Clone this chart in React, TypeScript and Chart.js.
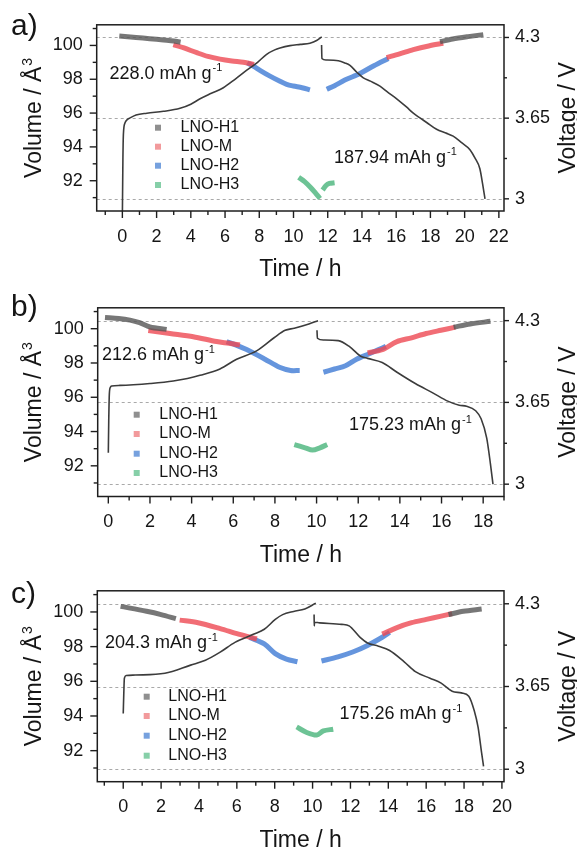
import React, { useEffect, useRef } from 'react';
import { Chart, registerables } from 'chart.js';
Chart.register(...registerables);

type P = [number, number];
const FONT = '"Liberation Sans", Arial, Helvetica, sans-serif';
const W = 577;
const H = 283;

// ---------- shared axis values ----------
const VOL_LABEL_TICKS = [92, 94, 96, 98, 100];
const VOL_MINOR_TICKS = [91, 93, 95, 97, 99, 101];
const VOLT_LABEL_TICKS = [3, 3.65, 4.3];
const VOLT_MINOR_TICKS = [3.325, 3.975];
const VOLT_GUIDES = [3, 3.65, 4.3];
const LEGEND_NAMES = ['LNO-H1', 'LNO-M', 'LNO-H2', 'LNO-H3'];

// ---------- panel a ----------
const A_X_TICKS = [0, 2, 4, 6, 8, 10, 12, 14, 16, 18, 20, 22];
const A_CHARGE: P[] = [[0, 2.86], [0.03, 3.3], [0.06, 3.52], [0.15, 3.61], [0.3, 3.64], [0.45, 3.652], [0.8, 3.675], [1.43, 3.69], [2.4, 3.705], [3.37, 3.729], [4.0, 3.762], [4.54, 3.806], [5.2, 3.85], [5.9, 3.895], [6.6, 3.965], [7.27, 4.036], [7.9, 4.1], [8.43, 4.164], [8.9, 4.2], [9.21, 4.215], [9.8, 4.234], [10.4, 4.244], [10.96, 4.254], [11.35, 4.275], [11.65, 4.305]];
const A_DISCHARGE: P[] = [[11.64, 4.24], [11.66, 4.13], [11.9, 4.118], [12.62, 4.112], [13.0, 4.095], [13.3, 4.075], [13.7, 4.02], [14.08, 3.975], [14.5, 3.948], [15.05, 3.908], [15.5, 3.86], [16.03, 3.806], [16.6, 3.74], [17.0, 3.69], [17.39, 3.652], [17.78, 3.615], [18.36, 3.56], [18.9, 3.53], [19.33, 3.505], [19.8, 3.455], [20.31, 3.396], [20.6, 3.33], [20.89, 3.242], [21.05, 3.12], [21.19, 3.0]];
const A_H1: P[][] = [
  [[-0.18, 100.56], [0.8, 100.47], [1.6, 100.4], [2.4, 100.32], [3.0, 100.26], [3.4, 100.19]],
  [[18.56, 100.22], [19.3, 100.38], [20.2, 100.52], [21.09, 100.64]],
];
const A_M: P[][] = [
  [[2.98, 100.05], [3.6, 99.85], [4.35, 99.57], [5.0, 99.35], [5.71, 99.19], [6.4, 99.08], [7.07, 99.0], [7.7, 98.88]],
  [[15.44, 99.28], [16.2, 99.5], [17.0, 99.75], [17.9, 99.97], [18.75, 100.13]],
];
const A_H2: P[][] = [
  [[7.3, 98.97], [7.7, 98.75], [8.04, 98.53], [8.6, 98.2], [9.21, 97.88], [9.6, 97.7], [9.99, 97.6], [10.5, 97.5], [10.96, 97.37]],
  [[11.94, 97.41], [12.4, 97.62], [13.0, 97.95], [13.88, 98.34], [14.7, 98.8], [15.54, 99.23]],
];
const A_H3: P[][] = [
  [[10.3, 92.2], [10.65, 91.95], [11.0, 91.6], [11.3, 91.25], [11.55, 90.95]],
  [[11.7, 91.45], [11.9, 91.72], [12.1, 91.84], [12.4, 91.88]],
];

// ---------- panel b ----------
const B_X_TICKS = [0, 2, 4, 6, 8, 10, 12, 14, 16, 18];
const B_CHARGE: P[] = [[0, 3.25], [0.02, 3.5], [0.05, 3.72], [0.1, 3.77], [0.16, 3.78], [0.56, 3.785], [1.2, 3.79], [2.0, 3.8], [3.12, 3.82], [3.8, 3.84], [4.4, 3.865], [5.36, 3.916], [6.16, 3.993], [7.12, 4.06], [7.96, 4.164], [8.49, 4.223], [8.93, 4.24], [9.63, 4.274], [10.07, 4.3]];
const B_DISCHARGE: P[] = [[10.02, 4.223], [10.04, 4.16], [10.33, 4.146], [11.04, 4.141], [11.57, 4.095], [12.1, 4.019], [12.45, 4.0], [13.15, 3.967], [13.86, 3.89], [14.74, 3.8], [15.6, 3.724], [16.3, 3.66], [16.85, 3.627], [17.2, 3.62], [17.64, 3.584], [17.9, 3.52], [18.17, 3.366], [18.35, 3.16], [18.47, 3.0]];
const B_H1: P[][] = [
  [[-0.16, 100.66], [0.5, 100.6], [1.04, 100.5], [1.5, 100.35], [2.0, 100.1], [2.8, 99.96]],
  [[16.58, 100.09], [17.38, 100.28], [18.35, 100.43]],
];
const B_M: P[][] = [
  [[1.92, 99.9], [2.96, 99.72], [4.08, 99.53], [5.2, 99.25], [5.8, 99.15], [6.32, 99.05]],
  [[12.45, 98.59], [13.15, 98.78], [13.86, 99.25], [14.56, 99.47], [15.26, 99.72], [15.97, 99.91], [16.67, 100.09]],
];
const B_H2: P[][] = [
  [[5.68, 99.25], [6.11, 99.06], [6.64, 98.78], [7.52, 98.22], [8.22, 97.75], [8.75, 97.56], [9.19, 97.56]],
  [[10.33, 97.46], [10.86, 97.65], [11.39, 97.84], [11.92, 98.22], [12.45, 98.5], [12.98, 98.78], [13.33, 98.97]],
];
const B_H3: P[][] = [
  [[8.93, 93.24], [9.45, 93.05], [9.8, 92.92], [10.16, 93.05], [10.51, 93.24]],
];

// ---------- panel c ----------
const C_X_TICKS = [0, 2, 4, 6, 8, 10, 12, 14, 16, 18, 20];
const C_CHARGE: P[] = [[0, 3.438], [0.03, 3.6], [0.06, 3.715], [0.16, 3.736], [0.64, 3.74], [2.2, 3.754], [3.56, 3.818], [4.34, 3.856], [5.12, 3.92], [5.9, 3.997], [6.87, 4.06], [7.45, 4.1], [8.03, 4.177], [8.42, 4.215], [9.0, 4.24], [9.59, 4.259], [10.17, 4.305]];
const C_DISCHARGE: P[] = [[10.08, 4.215], [10.09, 4.126], [10.1, 4.155], [10.37, 4.15], [11.54, 4.138], [11.93, 4.126], [12.51, 4.036], [12.9, 3.992], [13.48, 3.967], [14.07, 3.933], [14.84, 3.844], [15.43, 3.767], [16.2, 3.715], [16.79, 3.677], [17.37, 3.613], [17.86, 3.6], [18.25, 3.574], [18.54, 3.459], [18.74, 3.33], [18.93, 3.126], [19.03, 3.023]];
const C_H1: P[][] = [
  [[-0.14, 100.32], [1.23, 100.04], [2.0, 99.85], [2.78, 99.61]],
  [[17.18, 99.85], [17.96, 100.04], [18.93, 100.17]],
];
const C_M: P[][] = [
  [[2.98, 99.53], [3.95, 99.38], [5.12, 99.04], [6.09, 98.72], [7.06, 98.44]],
  [[13.68, 98.72], [14.46, 99.1], [15.23, 99.38], [16.01, 99.57], [16.79, 99.76], [17.37, 99.91]],
];
const C_H2: P[][] = [
  [[6.67, 98.53], [7.45, 98.16], [8.03, 97.6], [8.62, 97.28], [9.2, 97.13]],
  [[10.47, 97.17], [11.34, 97.41], [12.12, 97.69], [12.9, 98.07], [13.68, 98.54], [14.07, 98.82]],
];
const C_H3: P[][] = [
  [[9.16, 93.37], [9.69, 93.05], [10.22, 92.9], [10.57, 93.14], [11.09, 93.24]],
];

// ---------- styles ----------
const BAND_COLORS = ['rgba(85,85,85,0.8)', 'rgba(238,72,82,0.8)', 'rgba(62,122,212,0.8)', 'rgba(72,180,122,0.8)'];
const LEGEND_COLORS = ['#8f8f8f', '#f29a9c', '#76a1de', '#86cfa8'];

interface Spec {
  label: string;
  xMin: number; xMax: number; xTicks: number[];
  area: { left: number; right: number; top: number; bottom: number };
  charge: P[]; discharge: P[];
  groups: P[][][];
  capCharge: string; capDischarge: string;
  capChargePos: [number, number]; capDischargePos: [number, number];
  legend: { mx: number; lx: number; rows: number[] };
  labelBase: number;
}

const SPECS: Spec[] = [
  {
    label: 'a)', xMin: -1.5, xMax: 22.3, xTicks: A_X_TICKS,
    area: { left: 96.7, right: 504, top: 15.7, bottom: 211 },
    charge: A_CHARGE, discharge: A_DISCHARGE, groups: [A_H1, A_M, A_H2, A_H3],
    capCharge: '228.0 mAh g', capDischarge: '187.94 mAh g',
    capChargePos: [109.5, 78.5], capDischargePos: [334, 162.5],
    legend: { mx: 158, lx: 180.5, rows: [127.7, 146.7, 165.7, 185] }, labelBase: 35,
  },
  {
    label: 'b)', xMin: -0.51, xMax: 19.0, xTicks: B_X_TICKS,
    area: { left: 97.7, right: 504, top: 19, bottom: 213.5 },
    charge: B_CHARGE, discharge: B_DISCHARGE, groups: [B_H1, B_M, B_H2, B_H3],
    capCharge: '212.6 mAh g', capDischarge: '175.23 mAh g',
    capChargePos: [102, 77.3], capDischargePos: [349, 146.7],
    legend: { mx: 136.7, lx: 159.3, rows: [131.7, 151, 170.7, 190] }, labelBase: 33,
  },
  {
    label: 'c)', xMin: -1.37, xMax: 20.11, xTicks: C_X_TICKS,
    area: { left: 97.3, right: 504, top: 20.7, bottom: 215.7 },
    charge: C_CHARGE, discharge: C_DISCHARGE, groups: [C_H1, C_M, C_H2, C_H3],
    capCharge: '204.3 mAh g', capDischarge: '175.26 mAh g',
    capChargePos: [105, 81.7], capDischargePos: [339.5, 153.3],
    legend: { mx: 146.7, lx: 168.3, rows: [130.7, 150, 169.7, 189.7] }, labelBase: 37,
  },
];

function supText(ctx: CanvasRenderingContext2D, x: number, y: number, main: string, sup: string, size: number, align: 'left' | 'center' = 'left') {
  ctx.font = `${size}px ${FONT}`;
  const w = ctx.measureText(main).width;
  ctx.font = `${Math.round(size * 0.62)}px ${FONT}`;
  const ws = ctx.measureText(sup).width;
  const x0 = align === 'center' ? x - (w + ws + 1) / 2 : x;
  ctx.textAlign = 'left';
  ctx.font = `${size}px ${FONT}`;
  ctx.fillText(main, x0, y);
  ctx.font = `${Math.round(size * 0.62)}px ${FONT}`;
  ctx.fillText(sup, x0 + w + 1, y - size * 0.4);
}

function makePlugin(spec: Spec) {
  return {
    id: 'deco',
    beforeDatasetsDraw(chart: any) {
      const { ctx, chartArea: a, scales } = chart;
      ctx.save();
      ctx.strokeStyle = '#a9a9a9';
      ctx.lineWidth = 1;
      ctx.setLineDash([3, 3]);
      for (const v of VOLT_GUIDES) {
        const py = Math.round(scales.y2.getPixelForValue(v)) + 0.5;
        ctx.beginPath();
        ctx.moveTo(a.left, py);
        ctx.lineTo(a.right, py);
        ctx.stroke();
      }
      ctx.restore();
    },
    afterDraw(chart: any) {
      const { ctx, chartArea: a, scales } = chart;
      ctx.save();
      ctx.strokeStyle = '#1e1e1e';
      ctx.lineWidth = 1.5;
      ctx.strokeRect(a.left, a.top, a.right - a.left, a.bottom - a.top);
      ctx.lineWidth = 1.4;
      // x ticks
      for (let i = Math.ceil(spec.xMin); i <= Math.floor(spec.xMax); i++) {
        const px = scales.x.getPixelForValue(i);
        const len = i % 2 === 0 ? 7 : 4;
        ctx.beginPath();
        ctx.moveTo(px, a.bottom);
        ctx.lineTo(px, a.bottom + len);
        ctx.stroke();
      }
      // left ticks
      for (const v of [...VOL_LABEL_TICKS, ...VOL_MINOR_TICKS]) {
        const py = scales.y.getPixelForValue(v);
        const len = VOL_LABEL_TICKS.includes(v) ? 7 : 4;
        ctx.beginPath();
        ctx.moveTo(a.left, py);
        ctx.lineTo(a.left - len, py);
        ctx.stroke();
      }
      // right ticks
      for (const v of [...VOLT_LABEL_TICKS, ...VOLT_MINOR_TICKS]) {
        const py = scales.y2.getPixelForValue(v);
        const len = VOLT_LABEL_TICKS.includes(v) ? 5 : 3;
        ctx.beginPath();
        ctx.moveTo(a.right, py);
        ctx.lineTo(a.right + len, py);
        ctx.stroke();
      }
      ctx.fillStyle = '#151515';
      ctx.textBaseline = 'alphabetic';
      // panel label
      ctx.font = `30px ${FONT}`;
      ctx.textAlign = 'left';
      ctx.fillText(spec.label, 11, spec.labelBase);
      // x title
      ctx.font = `23px ${FONT}`;
      ctx.textAlign = 'center';
      ctx.fillText('Time / h', (a.left + a.right) / 2, a.bottom + 65);
      const cy = (a.top + a.bottom) / 2;
      // left title
      ctx.save();
      ctx.translate(41, cy);
      ctx.rotate(-Math.PI / 2);
      supText(ctx, 0, 0, 'Volume / Å', '3', 23, 'center');
      ctx.restore();
      // right title
      ctx.save();
      ctx.translate(575, cy);
      ctx.rotate(-Math.PI / 2);
      ctx.font = `23px ${FONT}`;
      ctx.textAlign = 'center';
      ctx.fillText('Voltage / V', 0, 0);
      ctx.restore();
      // capacities
      supText(ctx, spec.capChargePos[0], spec.capChargePos[1], spec.capCharge, '-1', 18);
      supText(ctx, spec.capDischargePos[0], spec.capDischargePos[1], spec.capDischarge, '-1', 18);
      // legend
      ctx.textBaseline = 'middle';
      ctx.textAlign = 'left';
      ctx.font = `16px ${FONT}`;
      LEGEND_NAMES.forEach((name, i) => {
        const ry = spec.legend.rows[i];
        ctx.fillStyle = LEGEND_COLORS[i];
        ctx.fillRect(spec.legend.mx - 3, ry - 3, 6, 6);
        ctx.fillStyle = '#151515';
        ctx.fillText(name, spec.legend.lx, ry);
      });
      ctx.restore();
    },
  };
}

function Panel({ spec }: { spec: Spec }) {
  const ref = useRef<HTMLCanvasElement>(null);
  useEffect(() => {
    if (!ref.current) return;
    const toXY = (pts: P[]) => pts.map(([x, y]) => ({ x, y }));
    const datasets: any[] = [];
    for (const pts of [spec.charge, spec.discharge]) {
      datasets.push({
        data: toXY(pts), yAxisID: 'y2', xAxisID: 'x', showLine: true,
        borderColor: '#3c3c3c', borderWidth: 1.6, pointRadius: 0,
        cubicInterpolationMode: 'monotone', fill: false,
      });
    }
    spec.groups.forEach((segs, gi) => {
      segs.forEach((pts) => {
        datasets.push({
          data: toXY(pts), yAxisID: 'y', xAxisID: 'x', showLine: true,
          borderColor: BAND_COLORS[gi], borderWidth: 5, pointRadius: 0,
          tension: 0.3, fill: false, borderCapStyle: 'butt',
        });
      });
    });
    const a = spec.area;
    const tickFont = { family: FONT, size: 18 };
    const chart = new Chart(ref.current, {
      type: 'scatter',
      data: { datasets },
      plugins: [makePlugin(spec)],
      options: {
        responsive: false,
        animation: false,
        devicePixelRatio: 1,
        layout: { padding: { top: a.top, left: 0, right: 0, bottom: 0 } },
        plugins: { legend: { display: false }, tooltip: { enabled: false } },
        scales: {
          x: {
            type: 'linear', min: spec.xMin, max: spec.xMax,
            afterFit: (s: any) => { s.height = H - a.bottom; },
            afterBuildTicks: (s: any) => { s.ticks = spec.xTicks.map((v) => ({ value: v })); },
            ticks: { font: tickFont, color: '#151515', padding: 15, maxRotation: 0, autoSkip: false, callback: (v: any) => String(v) },
            grid: { display: false, drawTicks: false },
            border: { display: false },
          },
          y: {
            type: 'linear', position: 'left', min: 90.21, max: 101.22,
            afterFit: (s: any) => { s.width = a.left; },
            afterBuildTicks: (s: any) => { s.ticks = VOL_LABEL_TICKS.map((v) => ({ value: v })); },
            ticks: { font: tickFont, color: '#151515', padding: 14, autoSkip: false, callback: (v: any) => String(v) },
            grid: { display: false, drawTicks: false },
            border: { display: false },
          },
          y2: {
            type: 'linear', position: 'right', min: 2.902, max: 4.402,
            afterFit: (s: any) => { s.width = W - a.right; },
            afterBuildTicks: (s: any) => { s.ticks = VOLT_LABEL_TICKS.map((v) => ({ value: v })); },
            ticks: { font: tickFont, color: '#151515', padding: 11, autoSkip: false, callback: (v: any) => String(v) },
            grid: { display: false, drawTicks: false },
            border: { display: false },
          },
        },
      } as any,
    });
    return () => chart.destroy();
  }, [spec]);
  return <canvas ref={ref} width={W} height={H} style={{ display: 'block', width: W, height: H }} />;
}

export default function App() {
  if (typeof document !== 'undefined') {
    document.body.style.margin = '0';
  }
  return (
    <div style={{ width: W, height: H * 3, background: '#fff' }}>
      {SPECS.map((s) => <Panel key={s.label} spec={s} />)}
    </div>
  );
}
